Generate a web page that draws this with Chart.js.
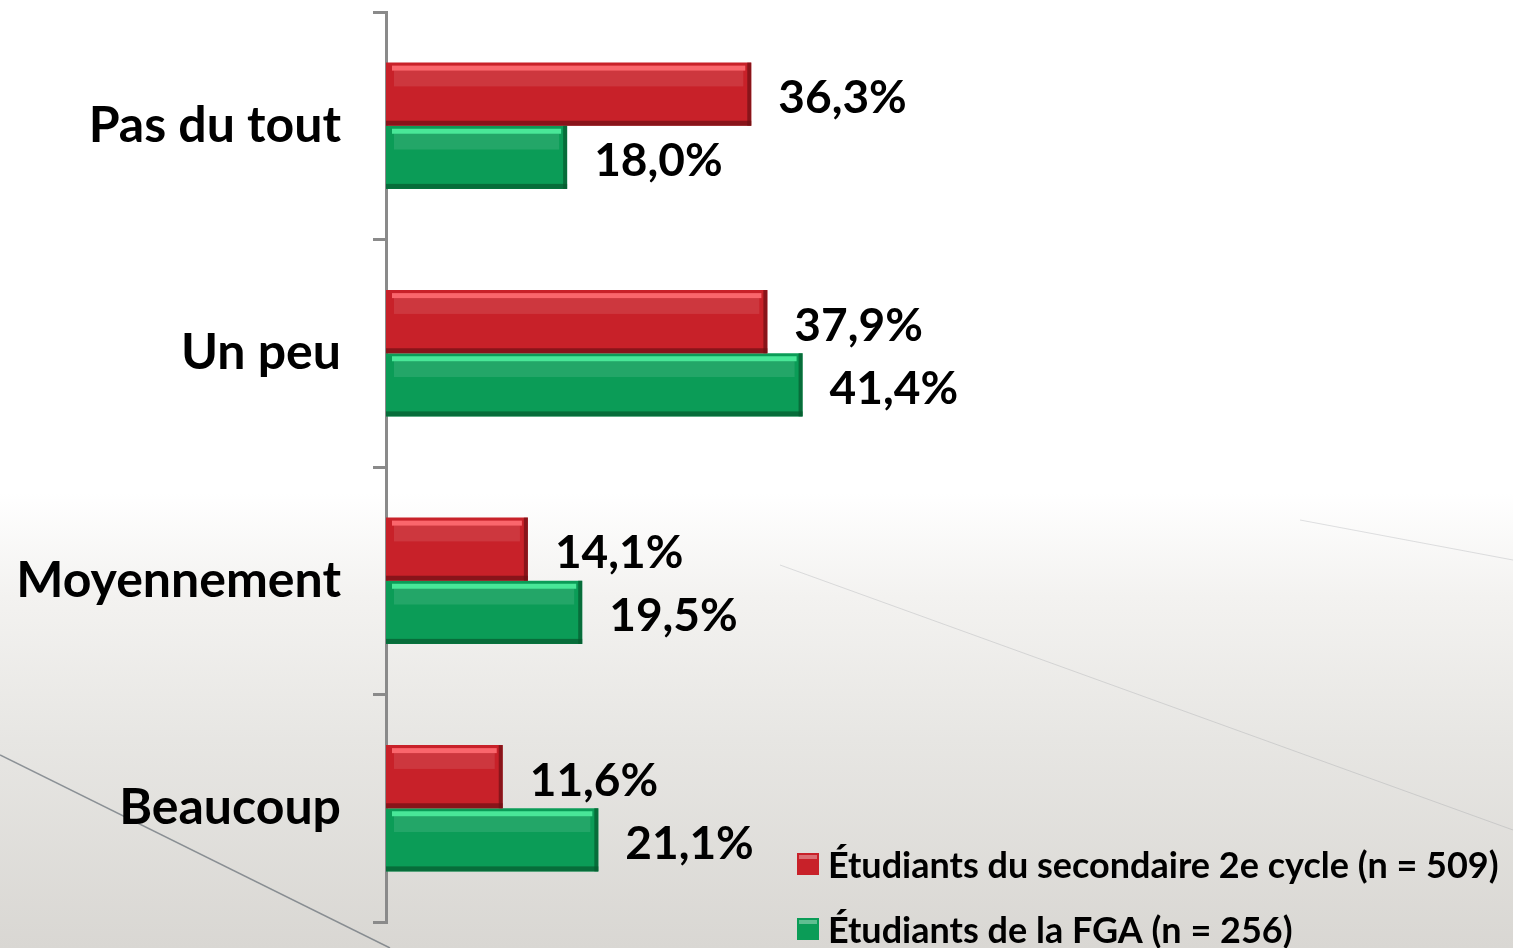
<!DOCTYPE html>
<html>
<head>
<meta charset="utf-8">
<script src="https://cdn.jsdelivr.net/npm/chart.js@4"></script>
<style>
  html, body { margin: 0; padding: 0; }
  body {
    width: 1513px; height: 948px; overflow: hidden;
    background: linear-gradient(to bottom, #ffffff 0%, #ffffff 52%, #f3f2f0 63%, #e7e6e3 78%, #d9d7d3 100%);
  }
  #wrap { position: absolute; left: 0; top: 0; width: 1513px; height: 948px; }
</style>
</head>
<body>
<div id="wrap"><canvas id="chart" width="1513" height="948"></canvas></div>
<script>
const categories = ['Pas du tout', 'Un peu', 'Moyennement', 'Beaucoup'];
const secondaire = [36.3, 37.9, 14.1, 11.6];
const fga = [18.0, 41.4, 19.5, 21.1];
const seriesNames = ['Étudiants du secondaire 2e cycle (n = 509)', 'Étudiants de la FGA (n = 256)'];

const FONT = 'Lato, "Open Sans", sans-serif';

// faint road lines in the background
const backdrop = {
  id: 'backdrop',
  beforeDraw(chart) {
    const c = chart.ctx;
    c.save();
    c.strokeStyle = 'rgba(80,90,100,0.6)';
    c.lineWidth = 1.5;
    c.beginPath(); c.moveTo(0, 755); c.lineTo(390, 948); c.stroke();
    c.strokeStyle = 'rgba(120,125,130,0.22)';
    c.lineWidth = 1;
    c.beginPath(); c.moveTo(780, 565); c.lineTo(1513, 830); c.stroke();
    c.beginPath(); c.moveTo(1300, 520); c.lineTo(1513, 560); c.stroke();
    c.restore();
  }
};

// bevel shading on bars
const bevel = {
  id: 'bevel',
  afterDatasetsDraw(chart) {
    const c = chart.ctx;
    const shades = [
      { hi: 'rgba(255,110,115,0.9)', lo: 'rgba(110,15,20,0.7)' },
      { hi: 'rgba(80,240,160,0.9)', lo: 'rgba(5,90,45,0.7)' }
    ];
    chart.data.datasets.forEach((ds, i) => {
      chart.getDatasetMeta(i).data.forEach(bar => {
        const x0 = bar.base, x1 = bar.x;
        const y0 = bar.y - bar.height / 2, h = bar.height;
        c.save();
        c.fillStyle = shades[i].hi;
        c.fillRect(x0 + 6, y0 + 3, x1 - x0 - 12, 5);
        c.fillStyle = 'rgba(255,255,255,0.1)';
        c.fillRect(x0 + 8, y0 + 8, x1 - x0 - 16, h * 0.25);
        c.fillStyle = shades[i].lo;
        c.fillRect(x0, y0 + h - 5, x1 - x0, 5);
        c.fillRect(x1 - 4, y0, 4, h);
        c.restore();
      });
    });
  }
};

// value labels to the right of each bar
const valueLabels = {
  id: 'valueLabels',
  afterDatasetsDraw(chart) {
    const c = chart.ctx;
    c.save();
    c.font = 'bold 46px ' + FONT;
    c.fillStyle = '#000';
    c.textBaseline = 'middle';
    chart.data.datasets.forEach((ds, i) => {
      chart.getDatasetMeta(i).data.forEach((bar, j) => {
        const txt = ds.data[j].toFixed(1).replace('.', ',') + '%';
        c.fillText(txt, bar.x + 27, bar.y + 4);
      });
    });
    c.restore();
  }
};

// legend in the bottom right corner
const cornerLegend = {
  id: 'cornerLegend',
  afterDraw(chart) {
    const c = chart.ctx;
    c.save();
    c.font = 'bold 36px ' + FONT;
    c.textBaseline = 'middle';
    const rows = [864, 929];
    chart.data.datasets.forEach((ds, i) => {
      const y = rows[i];
      c.fillStyle = ds.backgroundColor;
      c.fillRect(797, y - 11, 22, 22);
      c.fillStyle = 'rgba(255,255,255,0.35)';
      c.fillRect(799, y - 9, 18, 4);
      c.fillStyle = '#000';
      c.fillText(ds.label, 828, y + 2);
    });
    c.restore();
  }
};

new Chart(document.getElementById('chart').getContext('2d'), {
  type: 'bar',
  data: {
    labels: categories,
    datasets: [
      { label: seriesNames[0], data: secondaire, backgroundColor: '#c82129' },
      { label: seriesNames[1], data: fga, backgroundColor: '#0b9c57' }
    ]
  },
  options: {
    indexAxis: 'y',
    responsive: false,
    animation: false,
    events: [],
    layout: { padding: { left: 0, right: 0, top: 12, bottom: 26 } },
    datasets: { bar: { categoryPercentage: 0.555, barPercentage: 1 } },
    scales: {
      x: { display: false, min: 0, max: 112 },
      y: {
        afterFit(s) { s.width = 386; s.paddingTop = 0; s.paddingBottom = 0; },
        border: { display: true, color: '#8a8a8a', width: 3 },
        grid: { drawOnChartArea: false, drawTicks: true, tickLength: 13, color: '#8a8a8a', lineWidth: 3 },
        ticks: { color: '#000', padding: 32, font: { family: FONT, size: 50, weight: 'bold' } }
      }
    },
    plugins: { legend: { display: false }, tooltip: { enabled: false } }
  },
  plugins: [backdrop, bevel, valueLabels, cornerLegend]
});
</script>
</body>
</html>
